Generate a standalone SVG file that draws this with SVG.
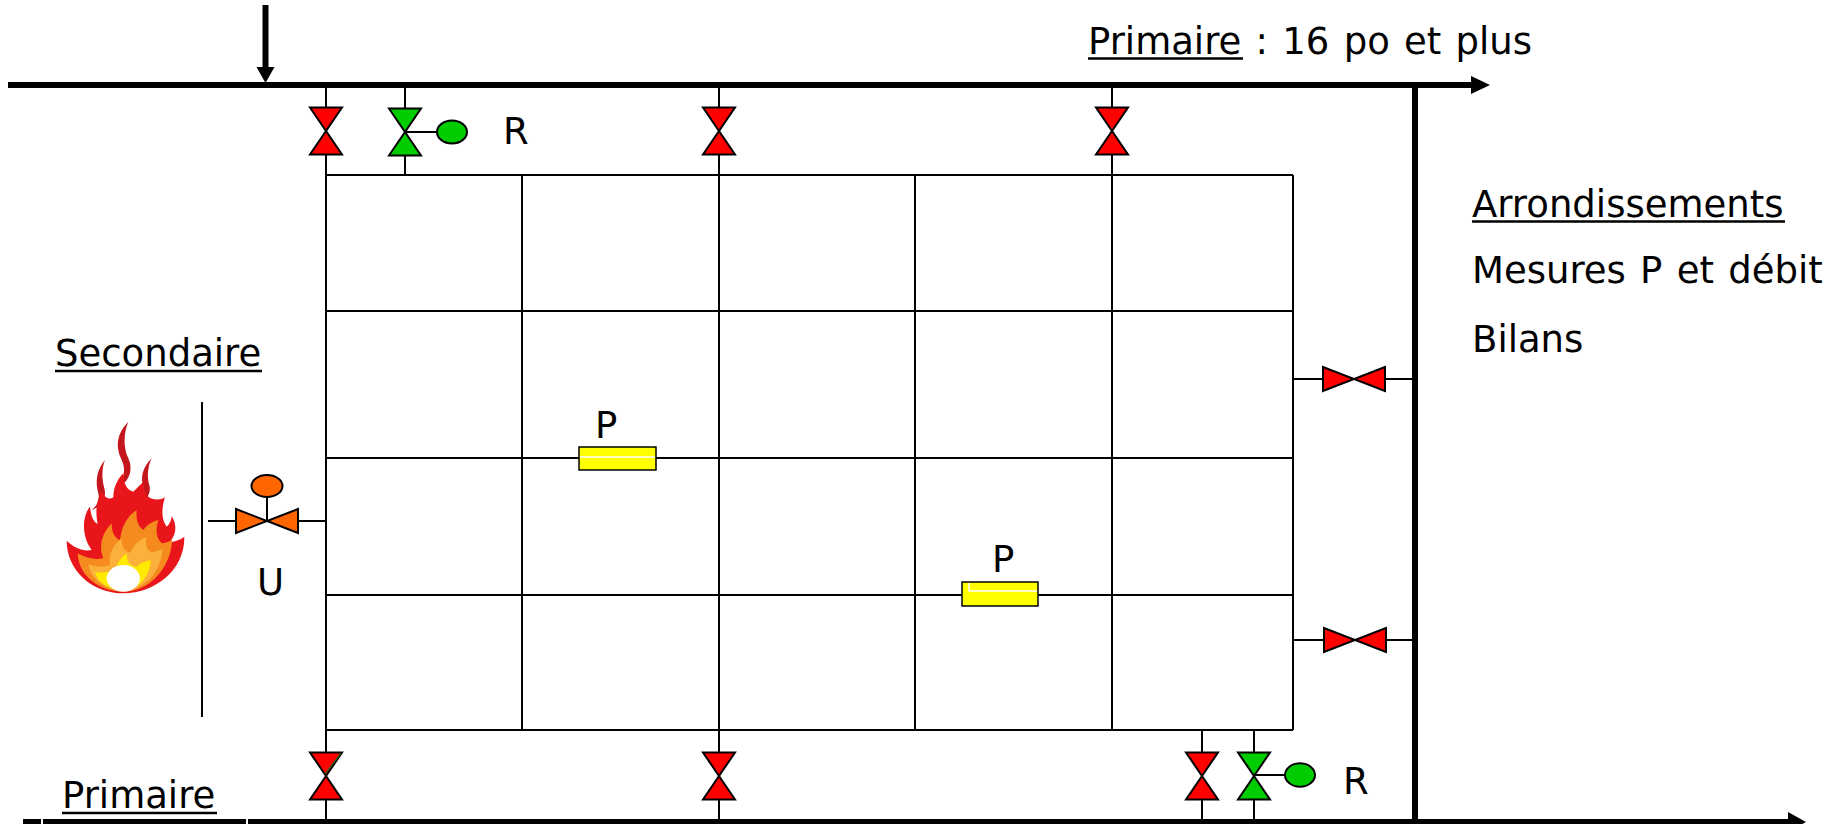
<svg xmlns="http://www.w3.org/2000/svg" width="1835" height="824" viewBox="0 0 1835 824">
<style>
  .pipe{stroke:#000;stroke-width:2;fill:none}
  .main{stroke:#000;stroke-width:6;fill:none}
  .v{stroke:#000;stroke-width:2;stroke-linejoin:miter}
  .red{fill:#FF0000}
  .grn{fill:#00CC00}
  .org{fill:#FF6600}
  .sensor{fill:#FFFF00;stroke:#000;stroke-width:1.5}
  .hl{stroke:#fff;stroke-width:1.5;fill:none}
  .ul{stroke:#000;stroke-width:2.5}
  text{font-family:"DejaVu Sans","Verdana",sans-serif;font-size:37px;fill:#000;word-spacing:2.5px}
</style>
<defs>
  <!-- vertical gate valve (bow-tie pointing down/up) centred on origin -->
  <g id="vv"><polygon points="-16,-23.5 16,-23.5 0,0"/><polygon points="-16,23.5 16,23.5 0,0"/></g>
  <!-- horizontal gate valve centred on origin -->
  <g id="hv"><polygon points="-31,-12 -31,12 0,0"/><polygon points="31,-12 31,12 0,0"/></g>
</defs>
<rect width="1835" height="824" fill="#fff"/>

<g id="connectors">
  <!-- primary mains -->
  <line class="main" x1="8" y1="85" x2="1472" y2="85"/>
  <polygon points="1471,76 1471,94 1490,85" fill="#000"/>
  <line class="main" x1="265.5" y1="5" x2="265.5" y2="68"/>
  <polygon points="256.5,67 274.5,67 265.5,83" fill="#000"/>
  <line class="main" x1="1415" y1="85" x2="1415" y2="824"/>
  <line class="main" x1="23" y1="822" x2="41" y2="822"/>
  <line class="main" x1="43" y1="822" x2="246" y2="822"/>
  <line class="main" x1="248" y1="822" x2="1790" y2="822"/>
  <polygon points="1788,812 1788,832 1806,822" fill="#000"/>

  <!-- distribution grid -->
  <line class="pipe" x1="326" y1="85" x2="326" y2="822"/>
  <line class="pipe" x1="405" y1="85" x2="405" y2="175"/>
  <line class="pipe" x1="522" y1="175" x2="522" y2="730"/>
  <line class="pipe" x1="719" y1="85" x2="719" y2="822"/>
  <line class="pipe" x1="915" y1="175" x2="915" y2="730"/>
  <line class="pipe" x1="1112" y1="85" x2="1112" y2="730"/>
  <line class="pipe" x1="1293" y1="175" x2="1293" y2="730"/>
  <line class="pipe" x1="1202" y1="730" x2="1202" y2="822"/>
  <line class="pipe" x1="1254" y1="730" x2="1254" y2="822"/>
  <line class="pipe" x1="326" y1="175" x2="1293" y2="175"/>
  <line class="pipe" x1="326" y1="311" x2="1293" y2="311"/>
  <line class="pipe" x1="326" y1="458" x2="1293" y2="458"/>
  <line class="pipe" x1="326" y1="595" x2="1293" y2="595"/>
  <line class="pipe" x1="326" y1="730" x2="1293" y2="730"/>

  <!-- district links -->
  <line class="pipe" x1="1293" y1="379" x2="1415" y2="379"/>
  <line class="pipe" x1="1293" y1="640" x2="1415" y2="640"/>

  <!-- secondary network -->
  <line class="pipe" x1="202" y1="402" x2="202" y2="717"/>
  <line class="pipe" x1="208" y1="521" x2="326" y2="521"/>

  <!-- actuator links -->
  <line class="pipe" x1="405" y1="132" x2="438" y2="132"/>
  <line class="pipe" x1="1254" y1="775" x2="1286" y2="775"/>
  <line class="pipe" x1="267" y1="521" x2="267" y2="497"/>
</g>

<g id="valve-top-1"><use href="#vv" class="v red" x="326" y="131"/></g>
<g id="valve-top-R"><use href="#vv" class="v grn" x="405" y="132"/><ellipse class="v grn" cx="452" cy="132" rx="15" ry="11.5"/></g>
<g id="valve-top-2"><use href="#vv" class="v red" x="719" y="131"/></g>
<g id="valve-top-3"><use href="#vv" class="v red" x="1112" y="131"/></g>

<g id="valve-bottom-1"><use href="#vv" class="v red" x="326" y="776"/><line x1="340.7" y1="753.5" x2="325" y2="774" stroke="#1d6b1d" stroke-width="1.2"/></g>
<g id="valve-bottom-2"><use href="#vv" class="v red" x="719" y="776"/></g>
<g id="valve-bottom-3"><use href="#vv" class="v red" x="1202" y="776"/></g>
<g id="valve-bottom-R"><use href="#vv" class="v grn" x="1254" y="776"/><ellipse class="v grn" cx="1300" cy="775" rx="15" ry="11.7"/></g>

<g id="valve-district-1"><use href="#hv" class="v red" x="1354" y="379"/></g>
<g id="valve-district-2"><use href="#hv" class="v red" x="1355" y="640"/></g>

<g id="valve-U"><use href="#hv" class="v org" x="267" y="521"/><ellipse class="v org" cx="267" cy="486" rx="15.5" ry="11"/></g>

<g id="sensor-1">
  <rect class="sensor" x="579" y="447" width="77" height="23"/>
  <line class="hl" x1="580" y1="457" x2="655" y2="457"/>
  <text x="595" y="438">P</text>
</g>
<g id="sensor-2">
  <rect class="sensor" x="962" y="582" width="76" height="24"/>
  <polyline class="hl" points="969,583 969,591 1037,591"/>
  <text x="992" y="572">P</text>
</g>

<g id="fire" transform="translate(55,410) scale(0.3333)">
  <path fill="#C4161C" d="M220 35 C185 70 180 110 200 150 C215 180 205 210 185 235 C225 215 235 180 220 145 C205 115 205 70 220 35 Z"/>
  <path fill="#C4161C" d="M150 150 C125 180 120 215 130 250 C135 270 125 290 110 300 C145 290 155 260 148 235 C140 205 140 175 150 150 Z"/>
  <path fill="#C4161C" d="M290 145 C265 170 255 200 265 230 C272 250 262 270 240 280 C280 275 290 245 282 222 C276 200 278 170 290 145 Z"/>
  <path fill="#E8161B" d="M205 550 C110 550 35 480 35 392 C60 415 85 425 110 420 C80 380 80 320 105 290 C108 320 115 335 128 342 C120 300 125 270 140 245 C150 265 165 270 175 262 C175 235 185 210 205 190 C205 220 215 240 235 245 C245 235 255 225 265 215 C265 245 275 265 300 268 C310 270 320 268 330 262 C318 300 320 330 335 350 C345 340 350 330 350 318 C370 350 360 380 342 398 C360 395 375 390 388 380 C390 480 300 550 205 550 Z"/>
  <path fill="#F58A1F" d="M205 545 C130 545 70 495 68 430 C95 445 120 450 145 445 C130 410 140 370 170 340 C170 370 180 385 195 390 C200 350 215 320 245 300 C242 330 250 350 265 360 C275 345 290 335 310 330 C300 360 305 385 320 400 C330 400 340 395 352 390 C345 480 280 545 205 545 Z"/>
  <path fill="#FBB03B" d="M205 542 C150 542 105 505 100 462 C125 472 145 472 165 464 C160 432 175 402 200 386 C200 410 210 425 225 428 C238 402 255 388 275 382 C270 405 275 420 290 428 C300 425 310 422 322 418 C318 490 265 542 205 542 Z"/>
  <path fill="#FFEA00" d="M205 540 C160 540 125 515 120 485 C140 490 160 488 180 478 C190 455 200 440 215 430 C215 455 225 470 245 470 C255 460 265 455 288 450 C282 505 250 540 205 540 Z"/>
  <ellipse fill="#fff" cx="205" cy="505" rx="50" ry="40"/>
</g>

<g id="labels">
  <text x="1088" y="54">Primaire : 16 po et plus</text>
  <line class="ul" x1="1088" y1="58.5" x2="1243" y2="58.5"/>
  <text x="1472" y="217">Arrondissements</text>
  <line class="ul" x1="1472" y1="221.5" x2="1785" y2="221.5"/>
  <text x="1472" y="283">Mesures P et débit</text>
  <text x="1472" y="352">Bilans</text>
  <text x="55" y="366">Secondaire</text>
  <line class="ul" x1="55" y1="371" x2="262" y2="371"/>
  <text x="62" y="808">Primaire</text>
  <line class="ul" x1="62" y1="813" x2="217" y2="813"/>
  <text x="503" y="144">R</text>
  <text x="1343" y="794">R</text>
  <text x="257" y="595">U</text>
</g>
</svg>
